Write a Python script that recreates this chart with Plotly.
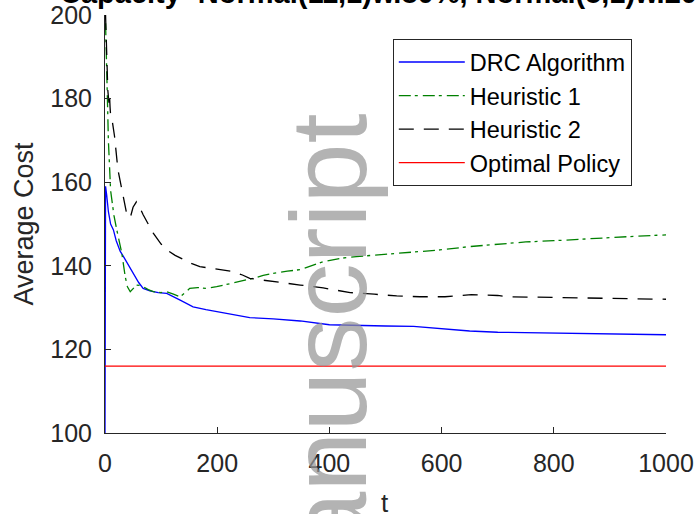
import plotly.graph_objects as go

# ---- data ----
t_drc = [0, 1, 3, 6, 10, 15, 20, 27, 33, 40, 50, 60, 68, 80, 95, 110, 134, 157, 180, 199,
         230, 258, 300, 348, 400, 450, 500, 550, 600, 650, 700, 750, 800, 850, 900, 950, 1000]
v_drc = [100, 159, 157, 153, 150, 148.6, 146, 143.5, 142.2, 140.5, 138.2, 136, 134.6, 134, 133.6,
         133.4, 131.8, 130.2, 129.5, 129, 128.2, 127.6, 127.3, 126.8, 125.9, 125.7, 125.6, 125.5,
         125.0, 124.4, 124.1, 124.0, 124.0, 123.9, 123.7, 123.6, 123.5]

t_h1 = [1, 2, 3, 4, 5, 6, 8, 10, 12, 16, 21, 26, 30, 36, 40, 45, 50, 56, 62, 68, 77, 86, 100,
        110, 122, 134, 145, 151, 165, 180, 199, 215, 229, 245, 264, 282, 300, 325, 348, 389,
        420, 448, 500, 561, 597, 650, 700, 750, 800, 850, 900, 950, 1000]
v_h1 = [198, 190, 182, 176, 176, 170, 162, 158, 156, 152, 148.6, 145.5, 143, 137.4, 135, 133.8,
        134.5, 135.4, 135.3, 135, 134.3, 133.8, 133.6, 133.8, 133.2, 132.6, 133.8, 134.6, 134.8,
        134.6, 135, 135.5, 135.8, 136.4, 137, 137.7, 138.2, 138.7, 139.1, 141, 141.8, 142.2,
        142.8, 143.4, 143.8, 144.6, 145.2, 145.7, 146.0, 146.4, 146.8, 147.1, 147.4]

t_h2 = [1, 2, 3, 5, 7, 8, 9, 10, 12, 17, 23, 28, 33, 39, 45, 50, 56, 62, 68, 77, 86, 100, 110,
        125, 140, 155, 169, 185, 199, 215, 229, 245, 258, 280, 300, 325, 348, 389, 437, 480,
        520, 561, 606, 653, 700, 716, 763, 800, 858, 900, 950, 1000]
v_h2 = [200, 194, 188, 182, 179, 181, 178, 176, 175.5, 171, 163, 159.5, 156.5, 152.2, 151.5, 154,
        155.3, 154, 152.2, 150, 147.8, 145.2, 143.8, 142.5, 141.4, 140.5, 139.8, 139.5, 139.2,
        138.9, 138.6, 137.8, 137, 136.6, 136.2, 135.8, 135.4, 134.7, 133.6, 133.2, 132.8, 132.6,
        132.6, 133.1, 132.9, 132.6, 132.5, 132.4, 132.3, 132.2, 132.1, 132.0]

t_opt = [0, 1000]
v_opt = [116, 116]

series_names = ["DRC Algorithm", "Heuristic 1", "Heuristic 2", "Optimal Policy"]
x_ticks = [0, 200, 400, 600, 800, 1000]
y_ticks = [100, 120, 140, 160, 180, 200]
title_text = "Capacity~Normal(11,1)w.80%, Normal(5,1)w.20%"
x_title = "t"
y_title = "Average Cost"
watermark_text = "Manuscript"

FONT = "Liberation Sans, Arial, Helvetica, sans-serif"
AX = "#262626"

fig = go.Figure()
fig.add_trace(go.Scatter(x=t_drc, y=v_drc, mode="lines", name=series_names[0],
                         line=dict(color="#0000ff", width=1.3)))
fig.add_trace(go.Scatter(x=t_h1, y=v_h1, mode="lines", name=series_names[1],
                         line=dict(color="#008000", width=1.3, dash="12px,4px,3px,5px")))
fig.add_trace(go.Scatter(x=t_h2, y=v_h2, mode="lines", name=series_names[2],
                         line=dict(color="#000000", width=1.3, dash="15px,10px")))
fig.add_trace(go.Scatter(x=t_opt, y=v_opt, mode="lines", name=series_names[3],
                         line=dict(color="#ff0000", width=1.3)))

fig.update_layout(
    width=697, height=514,
    margin=dict(l=105, r=31, t=15, b=81, autoexpand=False),
    paper_bgcolor="white", plot_bgcolor="white",
    font=dict(family=FONT, size=25, color=AX),
    showlegend=True,
    legend=dict(x=0.513, y=0.942, xanchor="left", yanchor="top",
                bgcolor="white", bordercolor=AX, borderwidth=1,
                font=dict(family=FONT, size=23.5, color="black"),
                itemwidth=66, tracegroupgap=0),
    xaxis=dict(range=[0, 1000], tickvals=x_ticks, ticks="inside", ticklen=6,
               tickcolor=AX, showline=True, linecolor=AX, linewidth=1,
               showgrid=False, zeroline=False, ticklabelstandoff=8, automargin=False,
               tickfont=dict(size=25, color=AX)),
    yaxis=dict(range=[100, 200], tickvals=y_ticks, ticks="inside", ticklen=6,
               tickcolor=AX, showline=True, linecolor=AX, linewidth=1,
               showgrid=False, zeroline=False, ticklabelstandoff=7, automargin=False,
               tickfont=dict(size=25, color=AX),
               title=dict(text=y_title, font=dict(size=27, color=AX), standoff=8)),
    annotations=[
        dict(text=watermark_text, xref="paper", yref="paper", x=0.399, y=0.132,
             xanchor="center", yanchor="middle", textangle=-90, showarrow=False,
             font=dict(family=FONT, size=108, color="rgba(150,150,150,0.72)")),
        dict(text=x_title, xref="paper", yref="paper", x=0.499, y=-0.167,
             xanchor="center", yanchor="middle", showarrow=False,
             font=dict(family=FONT, size=26, color=AX)),
        dict(text="<b>" + title_text + "</b>", xref="paper", yref="paper", x=0.51, y=1,
             xanchor="center", yanchor="bottom", yshift=4, showarrow=False,
             font=dict(family=FONT, size=29, color="black")),
    ],
)

fig.write_html("out.html", config={"displayModeBar": False},
               post_script="document.body.style.margin='0';document.body.style.overflow='hidden';")
